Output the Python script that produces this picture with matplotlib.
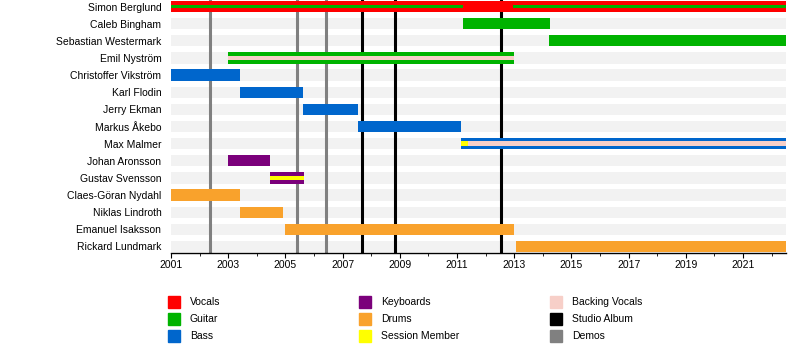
import matplotlib
matplotlib.use("Agg")
import matplotlib.pyplot as plt
from matplotlib.patches import Rectangle

plt.rcParams['font.family'] = ['Liberation Sans', 'DejaVu Sans']

# band members, top to bottom
members = ["Simon Berglund", "Caleb Bingham", "Sebastian Westermark", "Emil Nyström",
           "Christoffer Vikström", "Karl Flodin", "Jerry Ekman", "Markus Åkebo",
           "Max Malmer", "Johan Aronsson", "Gustav Svensson", "Claes-Göran Nydahl",
           "Niklas Lindroth", "Emanuel Isaksson", "Rickard Lundmark"]

END = 2022.5

# main bars: (member, start, end, role)
main_bars = [
    ("Simon Berglund", 2001.0, END, "Vocals"),
    ("Caleb Bingham", 2011.2, 2014.25, "Guitar"),
    ("Sebastian Westermark", 2014.2, END, "Guitar"),
    ("Emil Nyström", 2003.0, 2013.0, "Guitar"),
    ("Christoffer Vikström", 2001.0, 2003.4, "Bass"),
    ("Karl Flodin", 2003.4, 2005.6, "Bass"),
    ("Jerry Ekman", 2005.6, 2007.55, "Bass"),
    ("Markus Åkebo", 2007.55, 2011.15, "Bass"),
    ("Max Malmer", 2011.15, END, "Bass"),
    ("Johan Aronsson", 2003.0, 2004.45, "Keyboards"),
    ("Gustav Svensson", 2004.45, 2005.65, "Keyboards"),
    ("Claes-Göran Nydahl", 2001.0, 2003.4, "Drums"),
    ("Niklas Lindroth", 2003.4, 2004.9, "Drums"),
    ("Emanuel Isaksson", 2005.0, 2013.0, "Drums"),
    ("Rickard Lundmark", 2013.05, END, "Drums"),
]

# thin inner stripes: (member, start, end, role)
inner_bars = [
    ("Simon Berglund", 2001.0, 2011.2, "Guitar"),
    ("Simon Berglund", 2012.95, END, "Guitar"),
    ("Emil Nyström", 2003.0, 2013.0, "Backing Vocals"),
    ("Max Malmer", 2011.15, END, "Backing Vocals"),
    ("Max Malmer", 2011.15, 2011.4, "Session Member"),
    ("Gustav Svensson", 2004.45, 2005.65, "Session Member"),
]

# release dates
studio_albums = [2007.68, 2008.83, 2012.54]
demos = [2002.36, 2005.4, 2006.42]

role_colors = {
    "Vocals": "#ff0000",
    "Guitar": "#00b300",
    "Bass": "#0066cc",
    "Keyboards": "#7b007b",
    "Drums": "#f9a22c",
    "Session Member": "#ffff00",
    "Backing Vocals": "#f7cfc8",
    "Studio Album": "#000000",
    "Demos": "#808080",
}
legend_order = ["Vocals", "Guitar", "Bass", "Keyboards", "Drums", "Session Member",
                "Backing Vocals", "Studio Album", "Demos"]

fig = plt.figure(figsize=(8, 3.52), dpi=100)
ax = fig.add_axes([171 / 800, 1 - 253 / 352, 615 / 800, 253 / 352])

row = {name: i for i, name in enumerate(members)}
BAR_H = 0.66

# background stripes
for i in range(len(members)):
    ax.barh(i, END - 2001, left=2001, height=BAR_H, color="#f2f2f2", zorder=0)

for x in demos:
    ax.axvline(x, color=role_colors["Demos"], lw=2.2, zorder=1)
for x in studio_albums:
    ax.axvline(x, color=role_colors["Studio Album"], lw=2.2, zorder=1)

for name, s, e, role in main_bars:
    ax.barh(row[name], e - s, left=s, height=BAR_H, color=role_colors[role], zorder=2)

for name, s, e, role in inner_bars:
    h = 0.23 if name == "Simon Berglund" else 0.27
    ax.barh(row[name], e - s, left=s, height=h, color=role_colors[role], zorder=3)

ax.set_xlim(2001, END)
ax.set_ylim(14.38, -0.38)
ax.set_yticks(range(len(members)))
ax.set_yticklabels(members, fontsize=7.5)
ax.tick_params(axis="y", length=0, pad=7)
ax.set_xticks(range(2001, 2023, 2))
ax.set_xticks(range(2001, 2023), minor=True)
ax.tick_params(axis="x", which="major", length=3.5, labelsize=7.5, pad=1.5)
ax.tick_params(axis="x", which="minor", length=2)
for side in ["top", "right", "left"]:
    ax.spines[side].set_visible(False)
ax.spines["bottom"].set_linewidth(1.0)

# legend, three columns
col_x = [168, 359, 550]
row_y = [302, 319, 336]
for k, role in enumerate(legend_order):
    cx = col_x[k // 3]
    cy = row_y[k % 3]
    fig.add_artist(Rectangle((cx / 800, 1 - (cy + 6) / 352), 12 / 800, 12 / 352,
                             transform=fig.transFigure, color=role_colors[role]))
    fig.text((cx + 22) / 800, 1 - cy / 352, role, fontsize=7.5, va="center", ha="left")

fig.savefig("out.png", dpi=100)
